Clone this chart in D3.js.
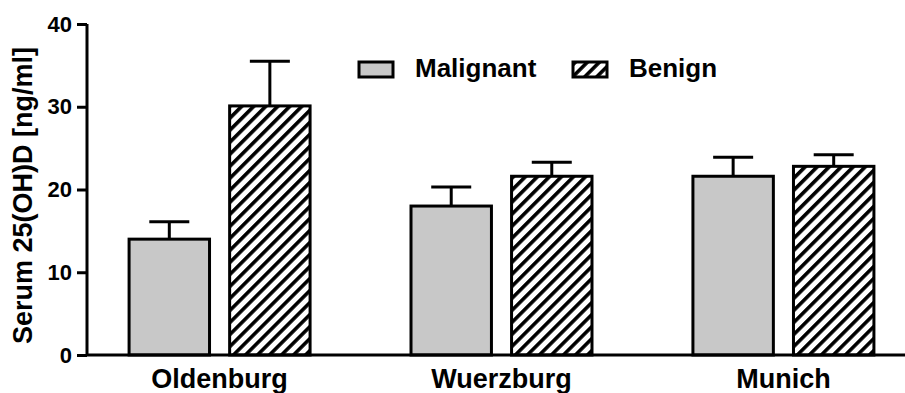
<!DOCTYPE html>
<html lang="en">
<head>
  <meta charset="UTF-8">
  <title>Serum 25(OH)D by centre</title>
  <script src="https://d3js.org/d3.v7.min.js"></script>
  <style>
    body { margin: 0; background: #fff; }
    text { font-family: Arial, "Liberation Sans", sans-serif; font-weight: bold; fill: #000; }
    .bar { stroke: #000; stroke-width: 3px; }
    .err { stroke: #000; stroke-width: 3px; fill: none; }
  </style>
</head>
<body>
<svg width="905" height="393" id="chart"></svg>

<script>
  const cities = ['Oldenburg', 'Wuerzburg', 'Munich'];
  const groups = ['Malignant', 'Benign'];
  const malignant = [14.0, 18.0, 21.6];
  const malignantErr = [2.1, 2.3, 2.3];
  const benign = [30.1, 21.6, 22.8];
  const benignErr = [5.4, 1.7, 1.4];
  const yTicks = [0, 10, 20, 30, 40];

  const rows = cities.map((c, i) => ({
    city: c,
    values: [
      { group: 'Malignant', value: malignant[i], err: malignantErr[i] },
      { group: 'Benign', value: benign[i], err: benignErr[i] }
    ]
  }));

  const svg = d3.select('#chart');

  const defs = svg.append('defs');
  const hatch = defs.append('pattern')
    .attr('id', 'hatch')
    .attr('patternUnits', 'userSpaceOnUse')
    .attr('width', 8.5)
    .attr('height', 8.5)
    .attr('patternTransform', 'rotate(45)');
  hatch.append('rect').attr('width', 8.5).attr('height', 8.5).attr('fill', '#fff');
  hatch.append('rect').attr('width', 3.6).attr('height', 8.5).attr('fill', '#000');

  const fill = d => d === 'Malignant' ? '#c8c8c8' : 'url(#hatch)';

  const y = d3.scaleLinear().domain([0, 40]).range([355, 24]);
  const x0 = d3.scaleBand().domain(cities).range([93, 910])
    .paddingInner(0.358).paddingOuter(0.128);
  const x1 = d3.scaleBand().domain(groups).range([0, x0.bandwidth()])
    .paddingInner(0.2);

  // bars
  const g = svg.selectAll('.city')
    .data(rows)
    .enter()
    .append('g')
    .attr('class', 'city')
    .attr('transform', d => `translate(${x0(d.city)},0)`);

  const item = g.selectAll('.item')
    .data(d => d.values)
    .enter()
    .append('g')
    .attr('class', 'item');

  // error bars (upper only)
  item.append('line')
    .attr('class', 'err')
    .attr('x1', d => x1(d.group) + x1.bandwidth() / 2)
    .attr('x2', d => x1(d.group) + x1.bandwidth() / 2)
    .attr('y1', d => y(d.value))
    .attr('y2', d => y(d.value + d.err));
  item.append('line')
    .attr('class', 'err')
    .attr('x1', d => x1(d.group) + x1.bandwidth() / 2 - 20)
    .attr('x2', d => x1(d.group) + x1.bandwidth() / 2 + 20)
    .attr('y1', d => y(d.value + d.err))
    .attr('y2', d => y(d.value + d.err));

  item.append('rect')
    .attr('class', 'bar')
    .attr('x', d => x1(d.group))
    .attr('y', d => y(d.value))
    .attr('width', x1.bandwidth())
    .attr('height', d => y(0) - y(d.value))
    .attr('fill', d => fill(d.group));

  // y axis
  const yAxis = svg.append('g')
    .attr('transform', 'translate(87,0)')
    .call(d3.axisLeft(y).tickValues(yTicks).tickSize(10).tickPadding(5));
  yAxis.select('.domain').attr('stroke', '#000').attr('stroke-width', 3)
    .attr('d', `M0,${y(40)}V${y(0)}`);
  yAxis.selectAll('.tick line').attr('stroke', '#000').attr('stroke-width', 3);
  yAxis.selectAll('.tick text')
    .style('font-size', '22px')
    .style('font-family', 'Arial, "Liberation Sans", sans-serif')
    .style('font-weight', 'bold')
    .attr('fill', '#000');

  // x axis
  const xAxis = svg.append('g')
    .attr('transform', `translate(0,${y(0)})`)
    .call(d3.axisBottom(x0).tickSize(0).tickPadding(14));
  xAxis.select('.domain').attr('stroke', '#000').attr('stroke-width', 3)
    .attr('d', 'M86,0H905');
  xAxis.selectAll('.tick text')
    .style('font-size', '27px')
    .style('font-family', 'Arial, "Liberation Sans", sans-serif')
    .style('font-weight', 'bold')
    .attr('fill', '#000');

  // y title
  svg.append('text')
    .attr('transform', `translate(32,${(y(0) + y(40)) / 2 + 6}) rotate(-90)`)
    .attr('text-anchor', 'middle')
    .style('font-size', '27px')
    .text('Serum 25(OH)D [ng/ml]');

  // legend
  const legendX = [359, 573];
  const legend = svg.selectAll('.legend')
    .data(groups)
    .enter()
    .append('g')
    .attr('class', 'legend')
    .attr('transform', (d, i) => `translate(${legendX[i]},62)`);
  legend.append('rect')
    .attr('width', 34)
    .attr('height', 15)
    .attr('fill', d => fill(d))
    .attr('stroke', '#000')
    .attr('stroke-width', 3);
  legend.append('text')
    .attr('x', 56)
    .attr('y', 15)
    .style('font-size', '26px')
    .text(d => d);
</script>
</body>
</html>
